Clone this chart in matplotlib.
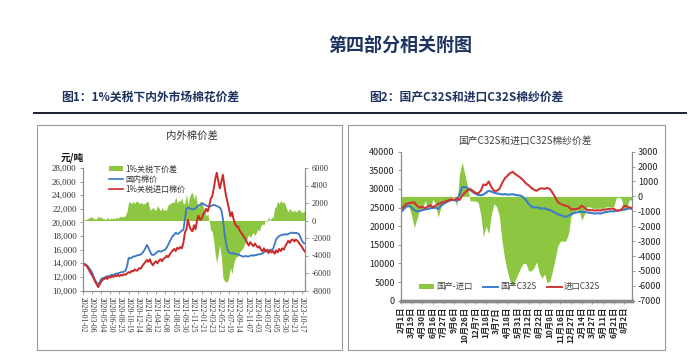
import numpy as np
import matplotlib
matplotlib.use('Agg')
import matplotlib.pyplot as plt
from matplotlib.patches import Rectangle, Patch
from matplotlib.lines import Line2D

plt.rcParams['font.family'] = ['Noto Sans CJK SC', 'DejaVu Sans']
plt.rcParams['axes.unicode_minus'] = False

# ---- chart 1: cotton spread under 1% tariff ----
dates1 = ['2020-01-02', '2020-03-06', '2020-05-04', '2020-06-30', '2020-08-25',
          '2020-10-19', '2020-12-14', '2021-02-08', '2021-04-12', '2021-06-08',
          '2021-08-05', '2021-09-30', '2021-11-25', '2022-01-21', '2022-03-23',
          '2022-05-23', '2022-07-19', '2022-09-14', '2022-11-07', '2023-01-03',
          '2023-03-07', '2023-05-05', '2023-06-30', '2023-08-23', '2023-10-17']

domestic = [14000, 13900, 13800, 13600, 13300, 13000,
            12600, 12000, 11500, 11100, 11000, 11200,
            11700, 11800, 11900, 12000, 12100, 12100,
            12200, 12300, 12300, 12400, 12500, 12500,
            12600, 12700, 12700, 12800, 12900, 13600,
            14800, 14700, 14800, 15000, 15000, 15100,
            15200, 15200, 15300, 15500, 15800, 16200,
            16700, 16300, 15800, 15300, 15200, 15300,
            15500, 15700, 15800, 15700, 15800, 15900,
            16000, 16300, 16700, 17200, 17600, 18000,
            18200, 18500, 18300, 18400, 18600, 18800,
            18900, 20500, 22000, 22200, 22100, 22000,
            21900, 22000, 22100, 22300, 22500, 22600,
            22700, 22800, 22600, 22500, 22400, 22300,
            22400, 22500, 22600, 22500, 22400, 22300,
            22200, 21800, 20500, 18500, 17000, 16000,
            15600, 15500, 15400, 15500, 15400, 15300,
            15300, 15200, 15100, 15000, 15000, 15100,
            15000, 15000, 15100, 15200, 15100, 15200,
            15200, 15300, 15300, 15400, 15400, 15700,
            15800, 15800, 15900, 15900, 16000, 16100,
            16800, 17500, 17800, 18000, 18100, 18200,
            18200, 18300, 18200, 18300, 18400, 18500,
            18500, 18400, 18500, 18400, 18300, 17800,
            17300, 17000, 16900]

imported = [14000, 13800, 13700, 13400, 13000, 12600,
            12200, 11800, 11300, 10900, 10500, 10900,
            11300, 11600, 11700, 11900, 11700, 12000,
            11900, 12100, 12000, 12200, 12100, 12300,
            12100, 12300, 12200, 12400, 12300, 12500,
            12700, 12600, 12900, 12800, 13100, 12900,
            13000, 13300, 13200, 13600, 13900, 14200,
            14500, 14200, 14600, 14000, 13700, 14100,
            14300, 14000, 14400, 14600, 14300, 14700,
            14800, 15100, 14900, 15300, 15600, 15900,
            16100, 15800, 16300, 16100, 16400, 16200,
            17000, 18500, 19000, 20400, 19500, 18900,
            18700, 19600, 19000, 20300, 21000, 20400,
            20500, 21200, 21500, 22000, 21600, 22400,
            23500, 23800, 25000, 26400, 27300, 26000,
            25000, 26000, 27000, 25400, 24000, 23000,
            22000, 20900, 21500, 20500, 19800, 19400,
            19400, 18800, 18500, 18200, 17800, 17500,
            17000, 16600, 17100, 16800, 16500, 16900,
            16600, 16300, 16500, 16000, 15800, 16200,
            15700, 16000, 15500, 15900, 15600, 15800,
            15400, 15900, 15600, 16100, 15800, 16200,
            16000, 16500, 16900, 17300, 17000, 17400,
            17500, 17200, 17500, 17300, 17000, 16700,
            16400, 16000, 15700]

# ---- chart 2: domestic vs imported C32S yarn ----
dates2 = ['2月1日', '3月19日', '4月30日', '6月16日', '7月27日', '9月6日',
          '10月26日', '12月7日', '1月18日', '3月7日', '4月18日', '5月31日',
          '7月12日', '8月22日', '10月8日', '11月16日', '12月27日', '2月14日',
          '3月27日', '5月11日', '6月21日', '8月2日']

yarn_dom = [23800, 24500, 25300, 25500, 25000, 24300, 24000, 24100,
            24300, 24500, 24600, 24800, 24900, 25000, 24600, 25500,
            26000, 26400, 26800, 27000, 27000, 26800, 28500, 30500,
            30500, 30300, 29700, 29200, 28700, 28400, 28300, 28500,
            29000, 29500, 29300, 29000, 28800, 28700, 28500, 28600,
            28500, 28500, 28600, 28400, 28300, 28200, 27800, 27000,
            26000, 25300, 25000, 25100, 24900, 24700, 24800, 24500,
            24300, 24000, 23600, 23200, 23000, 22700, 22500, 22800,
            23200, 23500, 23700, 23800, 23900, 23800, 23700, 23600,
            23500, 23400, 23500, 23400, 23600, 23800, 23900, 24000,
            24000, 24100, 24200, 24300, 24500, 24600, 24800, 24600]

yarn_imp = [24500, 25300, 26000, 26200, 26300, 26400, 25500, 25000,
            25200, 24800, 25300, 25600, 25100, 25500, 26000, 26200,
            26500, 26700, 27000, 27200, 27000, 27500, 27000, 28200,
            29000, 29600, 30000, 29500, 29000, 28800, 29500, 31200,
            31000, 32000, 30500, 29500, 29500, 30000, 31500, 32800,
            33500, 34200, 34600, 34000, 33500, 33000, 32300, 31500,
            31000, 30300, 29800, 29500, 30000, 30200, 30000, 30300,
            30000, 29000, 27800, 26500, 26000, 25700, 25500, 25300,
            24500, 24600, 24600, 24800, 25500, 25000, 24400, 24300,
            24300, 24200, 24300, 24200, 24400, 24500, 24600, 24700,
            24700, 24200, 24250, 24500, 25500, 25300, 25000, 24900]

GREEN = '#8dc641'
BLUE1 = '#3b78c8'
RED1 = '#cc2a2a'
GRAY = '#8c8c8c'
NAVY = '#1f3360'
SERIF = 'Liberation Serif'

W, H = 700, 359


def rect(x0, y0, x1, y1):
    return [x0 / W, 1 - y1 / H, (x1 - x0) / W, (y1 - y0) / H]


def fx(x):
    return x / W


def fy(y):
    return 1 - y / H


fig = plt.figure(figsize=(7.0, 3.59), dpi=100)

# header
fig.text(fx(400), fy(45), '第四部分相关附图', fontsize=13, fontweight='bold',
         color=NAVY, ha='center', va='center')
fig.text(fx(61), fy(97), '图1：1%关税下内外市场棉花价差', fontsize=8.5,
         fontweight='bold', color=NAVY, ha='left', va='center')
fig.text(fx(369), fy(97), '图2：国产C32S和进口C32S棉纱价差', fontsize=8.5,
         fontweight='bold', color=NAVY, ha='left', va='center')
fig.add_artist(Line2D([fx(34), fx(686)], [fy(113), fy(113)], color='#1a1f2e', lw=1.4))

# panel frames
for x0, x1 in [(37, 342), (348, 665)]:
    fig.add_artist(Rectangle((fx(x0), fy(350)), (x1 - x0) / W, 225 / H,
                             transform=fig.transFigure, fill=False,
                             edgecolor='#9a9a9a', lw=0.8))

# ---------------- chart 1 ----------------
x1 = np.arange(len(domestic))
spread1 = np.array(domestic) - np.array(imported)

ax1 = fig.add_axes(rect(83, 168, 305, 290.5))
ax1b = ax1.twinx()
ax1b.fill_between(x1, 0, spread1, color=GREEN, lw=0)
ax1.plot(x1, domestic, color=BLUE1, lw=1.3)
ax1.plot(x1, imported, color=RED1, lw=1.4)
ax1.set_zorder(ax1b.get_zorder() + 1)
ax1.patch.set_visible(False)

ax1.set_xlim(0, len(domestic) - 1)
ax1.set_ylim(10000, 28000)
ax1b.set_ylim(-8000, 6000)
yt = list(range(10000, 28001, 2000))
ax1.set_yticks(yt)
ax1.set_yticklabels([f'{v:,}' for v in yt], fontsize=6.5, family=SERIF, color='#333333')
yt2 = list(range(-8000, 6001, 2000))
ax1b.set_yticks(yt2)
ax1b.set_yticklabels([str(v) for v in yt2], fontsize=6, family=SERIF, color='#333333')
ax1.set_xticks(range(0, 6 * len(dates1), 6))
ax1.set_xticklabels(dates1, rotation=-90, fontsize=5.5, family=SERIF, color='#333333')
for a in (ax1, ax1b):
    a.spines['top'].set_visible(False)
    for s in ('left', 'right', 'bottom'):
        a.spines[s].set_color(GRAY)
        a.spines[s].set_linewidth(0.8)
    a.tick_params(length=2.5, width=0.6, color=GRAY, pad=2)

fig.text(fx(192), fy(136), '内外棉价差', fontsize=7.5, color='#333333',
         ha='center', va='center')
fig.text(fx(61), fy(158), '元/吨', fontsize=7, fontweight='bold',
         color='#111111', ha='left', va='center')

h1 = [Patch(facecolor=GREEN, edgecolor='none'),
      Line2D([], [], color=BLUE1, lw=1.2),
      Line2D([], [], color=RED1, lw=1.2)]
fig.legend(h1, ['1%关税下价差', '国内棉价', '1%关税进口棉价'],
           loc='upper left', bbox_to_anchor=(fx(103), fy(159)),
           frameon=False, fontsize=5.8, handlelength=1.8, handleheight=0.6,
           handletextpad=0.3, labelspacing=0.15, borderpad=0.2,
           labelcolor='#333333')

# ---------------- chart 2 ----------------
x2 = np.arange(len(yarn_dom))
spread2 = np.array(yarn_dom) - np.array(yarn_imp)

ax2 = fig.add_axes(rect(401, 151.7, 631.7, 300.7))
ax2b = ax2.twinx()
ax2b.fill_between(x2, 0, spread2, color=GREEN, lw=0)
ax2.plot(x2, yarn_dom, color='#3d7cc9', lw=1.5)
ax2.plot(x2, yarn_imp, color='#cf3532', lw=1.5)
ax2.set_zorder(ax2b.get_zorder() + 1)
ax2.patch.set_visible(False)

ax2.set_xlim(0, 86.8)
ax2.set_ylim(0, 40000)
ax2b.set_ylim(-7000, 3000)
ax2.set_yticks(range(0, 40001, 5000))
ax2.set_yticklabels([str(v) for v in range(0, 40001, 5000)], fontsize=6.5, color='#222222')
ax2b.set_yticks(range(-7000, 3001, 1000))
ax2b.set_yticklabels([str(v) for v in range(-7000, 3001, 1000)], fontsize=6.5, color='#222222')
ax2.set_xticks(range(0, 4 * len(dates2), 4))
ax2.set_xticklabels(dates2, rotation=90, fontsize=6, fontweight='bold', color='#2a2a2a')
for a in (ax2, ax2b):
    a.spines['top'].set_visible(False)
    for s in ('left', 'right'):
        a.spines[s].set_color(GRAY)
        a.spines[s].set_linewidth(0.8)
    a.spines['bottom'].set_color('#8a8a8a')
    a.spines['bottom'].set_linewidth(2.4)
    a.tick_params(length=2.5, width=0.6, color=GRAY, pad=2)

fig.text(fx(525), fy(141), '国产C32S和进口C32S棉纱价差', fontsize=7, color='#404040',
         ha='center', va='center')

h2 = [Patch(facecolor=GREEN, edgecolor='none'),
      Line2D([], [], color='#3d7cc9', lw=1.4),
      Line2D([], [], color='#cf3532', lw=1.4)]
fig.legend(h2, ['国产-进口', '国产C32S', '进口C32S'], ncol=3,
           loc='center left', bbox_to_anchor=(fx(414), fy(287)),
           frameon=False, fontsize=6, handlelength=1.8, handleheight=0.6,
           handletextpad=0.3, columnspacing=1.2, borderpad=0.1,
           labelcolor='#404040')

fig.savefig('out.png', dpi=100)
